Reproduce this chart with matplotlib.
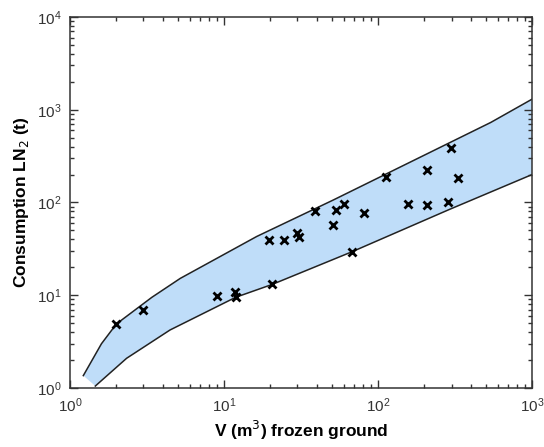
import numpy as np
import matplotlib.pyplot as plt
from matplotlib.ticker import LogLocator, NullFormatter

# measured points
vol = [2.0, 3.0, 9.0, 11.8, 11.9, 20.6, 19.6, 24.5, 29.9, 30.5, 39.0, 50.8, 53.4, 60.1,
       68.1, 80.7, 157, 208, 284, 112, 209, 299, 331]
ln2 = [4.9, 6.9, 9.8, 10.9, 9.5, 13.1, 39.4, 39.4, 47.3, 42.5, 80.4, 56.8, 83.7, 95.6,
       29.5, 77.1, 95.6, 93.3, 101, 190, 225, 385, 185]

# envelope
upper_x = [1.22, 1.6, 2.0, 3.4, 5.2, 16.3, 51, 540, 1000]
upper_y = [1.36, 3.0, 4.9, 9.5, 15.2, 43, 106, 730, 1300]
lower_x = [1.46, 2.33, 4.46, 11.9, 20.6, 68, 290, 1000]
lower_y = [1.05, 2.09, 4.22, 9.5, 13.1, 29.5, 84, 200]

plt.rcParams['font.family'] = ['Liberation Sans', 'DejaVu Sans']

fig = plt.figure(figsize=(5.44, 4.47), dpi=100)
ax = fig.add_axes([0.1287, 0.132, 0.8493, 0.830])

poly_x = upper_x + lower_x[::-1]
poly_y = upper_y + lower_y[::-1]
ax.fill(poly_x, poly_y, color='#bfddf9', lw=0, zorder=1)
ax.plot(upper_x, upper_y, color='#222222', lw=1.1, zorder=2)
ax.plot(lower_x, lower_y, color='#222222', lw=1.1, zorder=2)

ax.plot(vol, ln2, 'x', color='black', ms=6, mew=2, zorder=3)

ax.set_xscale('log')
ax.set_yscale('log')
ax.set_xlim(1, 1000)
ax.set_ylim(1, 1e4)

ax.xaxis.set_minor_locator(LogLocator(base=10, subs=np.arange(2, 10)))
ax.yaxis.set_minor_locator(LogLocator(base=10, subs=np.arange(2, 10)))
ax.xaxis.set_minor_formatter(NullFormatter())
ax.yaxis.set_minor_formatter(NullFormatter())
ax.tick_params(which='both', direction='in', top=True, right=True, colors='#333333',
               labelsize=11, width=1)
ax.tick_params(which='major', length=6, pad=6)
ax.tick_params(which='minor', length=3)
for s in ax.spines.values():
    s.set_color('#333333')
    s.set_linewidth(1.1)

ax.set_xlabel('V (m$^3$) frozen ground', fontsize=12.5, fontweight='bold', labelpad=3)
ax.set_ylabel('Consumption LN$_2$ (t)', fontsize=12.5, fontweight='bold', labelpad=4)

fig.savefig('out.png', dpi=100)
